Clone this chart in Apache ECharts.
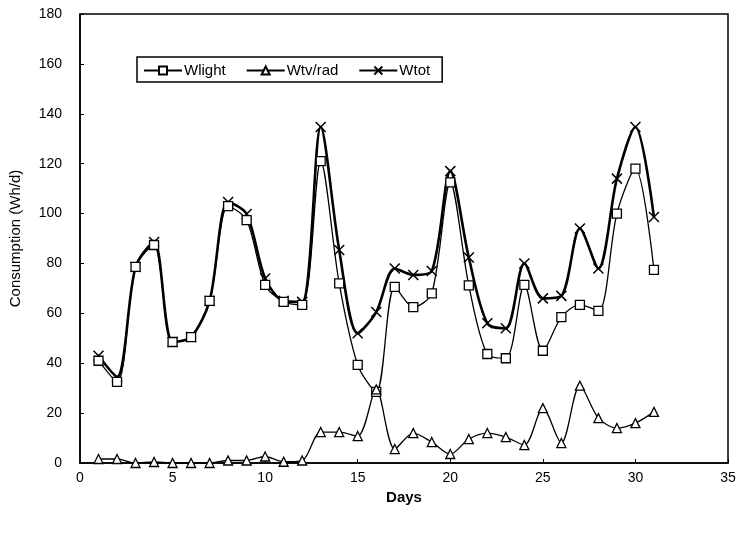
<!DOCTYPE html>
<html><head><meta charset="utf-8">
<script src="https://cdn.jsdelivr.net/npm/echarts@6/dist/echarts.min.js"></script>
<style>html,body{margin:0;padding:0;background:#fff}#c{width:739px;height:534px}</style>
</head><body><div id="c"></div>
<script>
const days = [1,2,3,4,5,6,7,8,9,10,11,12,13,14,15,16,17,18,19,20,21,22,23,24,25,26,27,28,29,30,31];
const wlight = [41,32.5,78.6,87.4,48.5,50.5,65,103,97.4,71.4,64.6,63.4,121,72,39.3,28.5,70.6,62.5,68,112.5,71.2,43.7,42,71.4,45,58.5,63.4,61,100,118,77.4];
const wtvrad = [1.6,1.6,0,0.4,0,0,0,1,1,2.6,0.5,1,12.4,12.4,10.8,29.5,5.6,12,8.4,3.6,9.6,12,10.4,7.2,22,8,31,18,14,16,20.5];
const wtot = [43,34.5,78.6,88.6,48.5,50.5,65,104.6,99.8,74,65,64.6,134.7,85.4,52,60.5,78,75.4,77,117,82.4,56,54,80,66,67,94,78,114,134.7,98.6];
const xTicks = [0,5,10,15,20,25,30,35];
const yTicks = [0,20,40,60,80,100,120,140,160,180];

const pair = a => days.map((d,i)=>[d,a[i]]);
const xPath = 'path://M0,0L10,10M10,0L0,10';
const chart = echarts.init(document.getElementById('c'));
const font = 'Liberation Sans, Arial, sans-serif';
chart.setOption({
  animation:false,
  grid:{left:80,right:11,top:14,bottom:71,show:true,borderColor:'#000',borderWidth:1.5,backgroundColor:'transparent'},
  legend:{
    left:137, top:57, width:320, height:24,
    padding:[6,12,4,6],
    itemGap:20, itemWidth:38, itemHeight:10,
    borderColor:'#000', borderWidth:1.5,
    textStyle:{fontFamily:font,fontSize:15,color:'#000',padding:[0,0,0,-3]},
    data:['Wlight','Wtv/rad','Wtot']
  },
  xAxis:{
    type:'value', min:xTicks[0], max:xTicks[xTicks.length-1], interval:5,
    name:'Days', nameLocation:'middle', nameGap:25,
    nameTextStyle:{fontFamily:font,fontSize:15,color:'#000',fontWeight:'bold'},
    axisLine:{lineStyle:{color:'#000',width:1.5}},
    axisTick:{show:true,inside:true,length:4,lineStyle:{color:'#000'}},
    axisLabel:{fontFamily:font,fontSize:14,color:'#000',margin:8},
    splitLine:{show:false}
  },
  yAxis:{
    type:'value', min:yTicks[0], max:yTicks[yTicks.length-1], interval:20,
    name:'Consumption (Wh/d)', nameLocation:'middle', nameGap:57,
    nameTextStyle:{fontFamily:font,fontSize:15,color:'#000'},
    axisLine:{show:true,lineStyle:{color:'#000',width:1.5}},
    axisTick:{show:true,inside:true,length:4,lineStyle:{color:'#000'}},
    axisLabel:{fontFamily:font,fontSize:14,color:'#000',margin:18},
    splitLine:{show:false}
  },
  series:[
    {name:'Wlight',type:'line',smooth:0.3,data:pair(wlight),symbol:'rect',symbolSize:9,
     lineStyle:{color:'#000',width:1.3},itemStyle:{color:'#fff',borderColor:'#000',borderWidth:1.3},z:3},
    {name:'Wtv/rad',type:'line',smooth:0.3,data:pair(wtvrad),symbol:'triangle',symbolSize:9,
     lineStyle:{color:'#000',width:1.3},itemStyle:{color:'#fff',borderColor:'#000',borderWidth:1.3},z:3},
    {name:'Wtot',type:'line',smooth:0.3,data:pair(wtot),symbol:xPath,symbolSize:10,
     lineStyle:{color:'#000',width:2.6},itemStyle:{color:'transparent',borderColor:'#000',borderWidth:1.5},z:2}
  ]
});
</script></body></html>
